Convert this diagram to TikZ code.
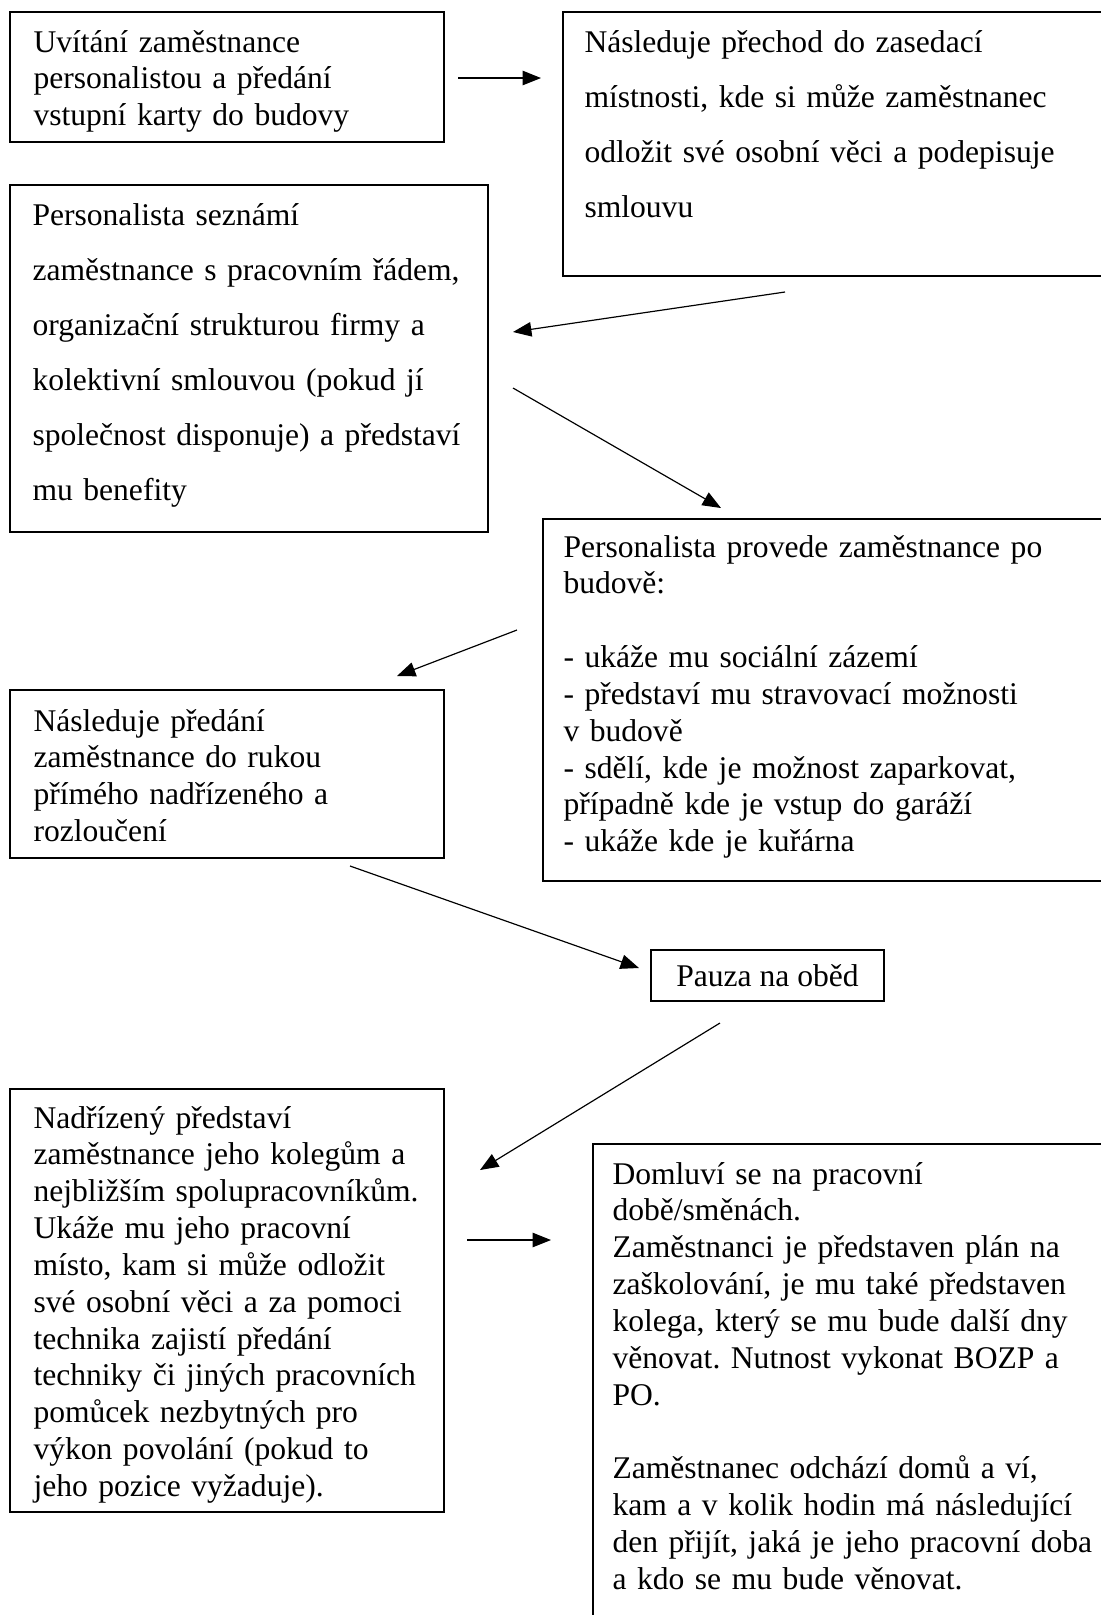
\documentclass[tikz,border=0pt]{standalone}
\usepackage{fontspec}
\setmainfont{Liberation Serif}
\frenchspacing
\usetikzlibrary{arrows.meta,fit}
\begin{document}
\begin{tikzpicture}[x=0.38pt,y=-0.38pt,
  box/.style={draw=black,line width=0.6pt,inner sep=0pt},
  txt/.style={inner sep=0pt,anchor=base west,align=left,text width=260pt,
    font=\fontsize{12pt}{14pt}\selectfont},
  txtd/.style={txt,font=\fontsize{12pt}{20.9pt}\selectfont},
  arr/.style={line width=0.45pt,-{Triangle[length=7pt,width=5.5pt]}}]
\useasboundingbox (0,0) rectangle (1101,1615);
\clip (0,0) rectangle (1101,1615);
\fill[white] (0,0) rectangle (1101,1615);
% boxes
\node[box,fit={(10,12) (444,142)}] (b1) {};
\node[box,fit={(563,12) (1120,276)}] (b2) {};
\node[box,fit={(10,185) (488,532)}] (b3) {};
\node[box,fit={(543,519) (1120,881)}] (b4) {};
\node[box,fit={(10,690) (444,858)}] (b5) {};
\node[box,fit={(651,950) (884,1001)}] (b6) {};
\node[box,fit={(10,1089) (444,1512)}] (b7) {};
\node[box,fit={(593,1144) (1120,1650)}] (b8) {};
% texts
\node[txt] (t1) at (33,52) {Uvítání zaměstnance\\personalistou a předání\\vstupní karty do budovy};
\node[txtd] (t2) at (584,52) {Následuje přechod do zasedací\\místnosti, kde si může zaměstnanec\\odložit své osobní věci a podepisuje\\smlouvu};
\node[txtd] (t3) at (32,225) {Personalista seznámí\\zaměstnance s pracovním řádem,\\organizační strukturou firmy a\\kolektivní smlouvou (pokud jí\\společnost disponuje) a představí\\mu benefity};
\node[txt] (t4) at (563,557) {Personalista provede zaměstnance po\\budově:\\[14pt]- ukáže mu sociální zázemí\\- představí mu stravovací možnosti\\v budově\\- sdělí, kde je možnost zaparkovat,\\případně kde je vstup do garáží\\- ukáže kde je kuřárna};
\node[txt] (t5) at (33,731) {Následuje předání\\zaměstnance do rukou\\přímého nadřízeného a\\rozloučení};
\node[font=\fontsize{12pt}{14pt}\selectfont,inner sep=0pt] (t6) at (b6.center) {Pauza na oběd};
\node[txt] (t7) at (33,1128) {Nadřízený představí\\zaměstnance jeho kolegům a\\nejbližším spolupracovníkům.\\Ukáže mu jeho pracovní\\místo, kam si může odložit\\své osobní věci a za pomoci\\technika zajistí předání\\techniky či jiných pracovních\\pomůcek nezbytných pro\\výkon povolání (pokud to\\jeho pozice vyžaduje).};
\node[txt] (t8) at (612,1184) {Domluví se na pracovní\\době/směnách.\\Zaměstnanci je představen plán na\\zaškolování, je mu také představen\\kolega, který se mu bude další dny\\věnovat. Nutnost vykonat BOZP a\\PO.\\[14pt]Zaměstnanec odchází domů a ví,\\kam a v kolik hodin má následující\\den přijít, jaká je jeho pracovní doba\\a kdo se mu bude věnovat.};
% arrow end points
\coordinate (a1s) at (458,78);  \coordinate (a1e) at (541,78);
\coordinate (a2s) at (785,292); \coordinate (a2e) at (513,332);
\coordinate (a3s) at (513,388); \coordinate (a3e) at (721,508);
\coordinate (a4s) at (517,630); \coordinate (a4e) at (397,676);
\coordinate (a5s) at (350,866); \coordinate (a5e) at (639,968);
\coordinate (a6s) at (720,1023);\coordinate (a6e) at (480,1170);
\coordinate (a7s) at (467,1240);\coordinate (a7e) at (551,1240);
\draw[arr] (a1s) -- (a1e);
\draw[arr] (a2s) -- (a2e);
\draw[arr] (a3s) -- (a3e);
\draw[arr] (a4s) -- (a4e);
\draw[arr] (a5s) -- (a5e);
\draw[arr] (a6s) -- (a6e);
\draw[arr] (a7s) -- (a7e);
\end{tikzpicture}
\end{document}
